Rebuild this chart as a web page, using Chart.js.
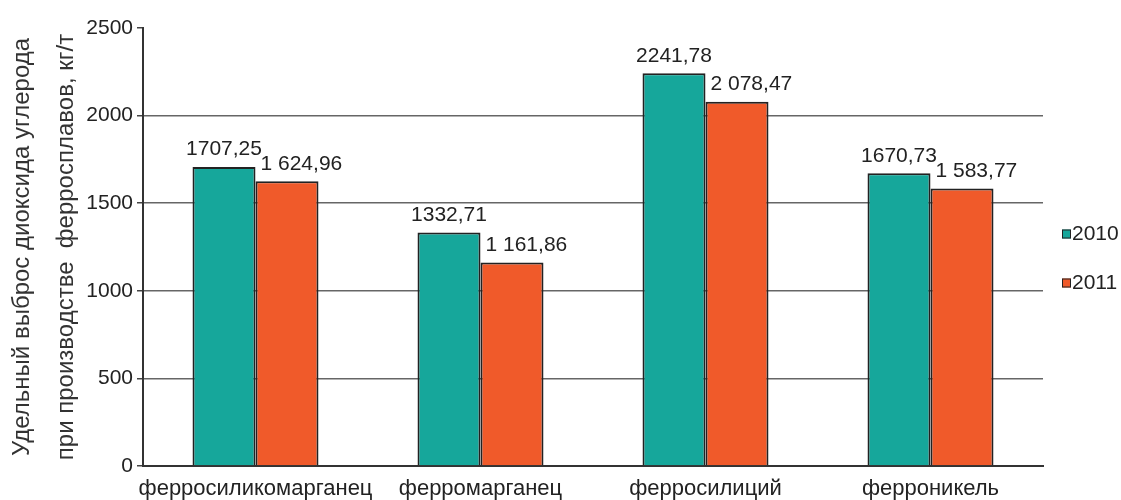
<!DOCTYPE html>
<html>
<head>
<meta charset="utf-8">
<script src="https://cdn.jsdelivr.net/npm/chart.js@4.4.0/dist/chart.umd.min.js"></script>
<style>
  html, body { margin: 0; padding: 0; background: #fff; }
  #wrap { width: 1121px; height: 500px; }
</style>
</head>
<body>
<div id="wrap"><canvas id="grafico" width="1121" height="500"></canvas></div>
<script>
// Datos del gráfico
const categorias = ['ферросиликомарганец', 'ферромарганец', 'ферросилиций', 'ферроникель'];
const anios = ['2010', '2011'];
const valores2010 = [1707.25, 1332.71, 2241.78, 1670.73];
const valores2011 = [1624.96, 1161.86, 2078.47, 1583.77];
const tituloEjeY = ['Удельный выброс диоксида углерода', 'при производстве  ферросплавов, кг/т'];
const ejeY = { min: 0, max: 2500, paso: 500 };

const colores = ['#16a79b', '#f05a2a'];
const borde = '#222';
const fuente = '"Liberation Sans", Arial, sans-serif';

// 1707,25 (sin espacio) y 1 624,96 (con espacio de miles)
function formato(v, conEspacio) {
  let [ent, dec] = v.toFixed(2).split('.');
  if (conEspacio) ent = ent.replace(/\B(?=(\d{3})+(?!\d))/g, ' ');
  return ent + ',' + dec;
}

// etiquetas encima de las barras
const etiquetas = {
  id: 'etiquetas',
  afterDatasetsDraw(chart) {
    const ctx = chart.ctx;
    ctx.save();
    ctx.font = '21px ' + fuente;
    ctx.fillStyle = '#222';
    ctx.textBaseline = 'bottom';
    chart.data.datasets.forEach((ds, i) => {
      chart.getDatasetMeta(i).data.forEach((bar, j) => {
        const txt = formato(ds.data[j], i === 1);
        if (i === 0) {
          ctx.textAlign = 'center';
          ctx.fillText(txt, bar.x, bar.y - 7);
        } else {
          ctx.textAlign = 'left';
          ctx.fillText(txt, bar.x - bar.width / 2 + 5, bar.y - 7);
        }
      });
    });
    ctx.restore();
  }
};

// leyenda a la derecha, cuadritos pequeños
const leyenda = {
  id: 'leyenda',
  afterDraw(chart) {
    const ctx = chart.ctx;
    const a = chart.chartArea;
    const medio = (a.top + a.bottom) / 2 + 11;
    ctx.save();
    ctx.font = '21px ' + fuente;
    ctx.textBaseline = 'middle';
    ctx.textAlign = 'left';
    chart.data.datasets.forEach((ds, i) => {
      const y = medio + (i - 0.5) * 49;
      const x = a.right + 19;
      ctx.fillStyle = ds.backgroundColor;
      ctx.fillRect(x, y - 4, 9, 9);
      ctx.strokeStyle = borde;
      ctx.lineWidth = 1;
      ctx.strokeRect(x + 0.5, y - 3.5, 8, 8);
      ctx.fillStyle = '#222';
      ctx.fillText(ds.label, x + 10, y + 1);
    });
    ctx.restore();
  }
};

const grafica = new Chart(document.getElementById('grafico'), {
  type: 'bar',
  data: {
    labels: categorias,
    datasets: [
      { label: anios[0], data: valores2010, backgroundColor: colores[0], borderColor: borde, borderWidth: 2 },
      { label: anios[1], data: valores2011, backgroundColor: colores[1], borderColor: borde, borderWidth: 2 },
    ],
  },
  options: {
    responsive: false,
    animation: false,
    layout: { padding: { top: 28, right: 78, left: 0, bottom: 0 } },
    categoryPercentage: 0.56,
    barPercentage: 1,
    plugins: { legend: { display: false }, tooltip: { enabled: false } },
    scales: {
      x: {
        grid: { display: false, drawTicks: false },
        border: { color: '#333', width: 2 },
        ticks: { color: '#222', font: { family: fuente, size: 22 }, padding: 10, maxRotation: 0, autoSkip: false },
        afterFit(scale) { scale.height = 34; },
      },
      y: {
        min: ejeY.min,
        max: ejeY.max,
        ticks: {
          stepSize: ejeY.paso,
          color: '#222',
          font: { family: fuente, size: 21 },
          padding: 4,
          callback: (v) => String(v),
        },
        grid: {
          tickLength: 6,
          lineWidth: 1.5,
          color: (c) => (c.tick && (c.tick.value === ejeY.max || c.tick.value === ejeY.min)) ? 'rgba(0,0,0,0)' : '#666',
          tickColor: '#444',
        },
        border: { color: '#333', width: 2 },
        title: {
          display: true,
          text: tituloEjeY,
          color: '#333',
          font: { family: fuente, size: 24, lineHeight: 1.85 },
          padding: { top: 0, bottom: 0 },
        },
        afterFit(scale) { scale.width = 143; },
      },
    },
  },
  plugins: [etiquetas, leyenda],
});
</script>
</body>
</html>
